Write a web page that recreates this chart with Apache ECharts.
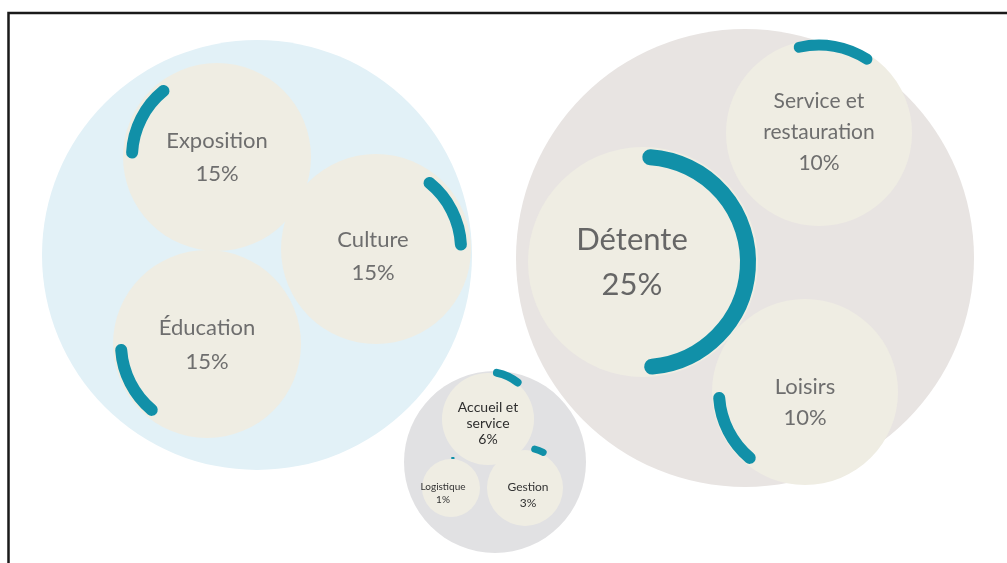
<!DOCTYPE html>
<html>
<head>
<meta charset="utf-8">
<script src="https://cdn.jsdelivr.net/npm/echarts@6/dist/echarts.min.js"></script>
<style>
  html, body { margin: 0; padding: 0; background: #fff; }
  #chart { width: 1007px; height: 563px; }
</style>
</head>
<body>
<div id="chart"></div>
<script>
// categories and their shares
var labels = ['Exposition', 'Culture', 'Éducation', 'Détente', 'Service et\nrestauration', 'Loisirs', 'Accueil et\nservice', 'Logistique', 'Gestion'];
var shares = [15, 15, 15, 25, 10, 10, 6, 1, 3];
var groupOf = [0, 0, 0, 1, 1, 1, 2, 2, 2];
// length of the teal arc on each bubble, degrees
var arcDegrees = [48, 48, 46, 171, 46, 46, 28, 3, 13];

// layout (chart units = px of the 1007x563 frame)
var bubbleX = [217, 376, 207, 643, 819, 805, 488, 451, 525];
var bubbleY = [157, 249, 344, 262, 133, 392, 419, 488, 488];
var bubbleR = [94, 95, 94, 115, 93, 93, 46, 29, 38];
var arcR = [85, 85, 86, 105, 88, 86, 47, 30, 40];
var arcStart = [183, 309, 130, 274, 257, 130, 281, 272, 284];
var groupX = [257, 745, 495];
var groupY = [255, 258, 462];
var groupR = [215, 229, 91];

var groupColors = ['#e2f1f7', '#e8e4e2', '#e1e1e3'];
var bubbleColor = '#efede3';
var arcColor = '#1190a8';

var labelStyle = [
  { size: 22, lh: 33, dx: 0, dy: 0, color: '#6e6e6e', width: 12 },
  { size: 22, lh: 33, dx: -3, dy: 7, color: '#6e6e6e', width: 12 },
  { size: 22, lh: 34, dx: 0, dy: 1, color: '#6e6e6e', width: 12 },
  { size: 31, lh: 45, dx: -11, dy: 0, color: '#666666', width: 16 },
  { size: 21, lh: 31, dx: 0, dy: -1, color: '#6e6e6e', width: 11 },
  { size: 22, lh: 31, dx: 0, dy: 10, color: '#6e6e6e', width: 12 },
  { size: 14, lh: 16, dx: 0, dy: 4, color: '#2e2e2e', width: 8 },
  { size: 10, lh: 13, dx: -8, dy: 5, color: '#333333', width: 2 },
  { size: 12, lh: 16, dx: 3, dy: 7, color: '#333333', width: 7 }
];

var groupData = groupX.map(function (x, i) { return [x, groupY[i], groupR[i], i]; });
var bubbleData = labels.map(function (name, i) {
  return [bubbleX[i], bubbleY[i], bubbleR[i], arcR[i], arcStart[i], arcDegrees[i], shares[i], i];
});

var chart = echarts.init(document.getElementById('chart'));

function renderGroup(params, api) {
  var c = api.coord([api.value(0), api.value(1)]);
  var r = api.size([api.value(2), 0])[0];
  return {
    type: 'circle',
    shape: { cx: c[0], cy: c[1], r: r },
    style: { fill: groupColors[api.value(3)] }
  };
}

function renderBubble(params, api) {
  var i = api.value(7);
  var c = api.coord([api.value(0), api.value(1)]);
  var r = api.size([api.value(2), 0])[0];
  var st = labelStyle[i];
  return {
    type: 'group',
    children: [{
      type: 'circle',
      shape: { cx: c[0], cy: c[1], r: r },
      style: { fill: bubbleColor }
    }, {
      type: 'text',
      z2: 20,
      style: {
        x: c[0] + st.dx,
        y: c[1] + st.dy,
        text: labels[i] + '\n' + api.value(6) + '%',
        align: 'center',
        verticalAlign: 'middle',
        fontFamily: 'Lato',
        fontSize: st.size,
        lineHeight: st.lh,
        fill: st.color
      }
    }]
  };
}

function renderArc(params, api) {
  var i = api.value(7);
  var c = api.coord([api.value(0), api.value(1)]);
  var r = api.size([api.value(3), 0])[0];
  var a0 = api.value(4) * Math.PI / 180;
  var a1 = (api.value(4) + api.value(5)) * Math.PI / 180;
  return {
    type: 'arc',
    shape: { cx: c[0], cy: c[1], r: r, startAngle: a0, endAngle: a1, clockwise: true },
    style: { fill: 'none', stroke: arcColor, lineWidth: labelStyle[i].width, lineCap: 'round' }
  };
}

chart.setOption({
  animation: false,
  grid: { left: 0, right: 0, top: 0, bottom: 0 },
  xAxis: { type: 'value', min: 0, max: 1007, show: false },
  yAxis: { type: 'value', min: 0, max: 563, inverse: true, show: false },
  graphic: [{
    type: 'rect',
    shape: { x: 8.5, y: 13, width: 1200, height: 800 },
    style: { fill: 'none', stroke: '#1a1a1a', lineWidth: 2.5 },
    z: 100
  }],
  series: [
    { type: 'custom', renderItem: renderGroup, data: groupData, z: 1, silent: true },
    { type: 'custom', renderItem: renderBubble, data: bubbleData, z: 2, silent: true },
    { type: 'custom', renderItem: renderArc, data: bubbleData, z: 3, silent: true }
  ]
});
</script>
</body>
</html>
